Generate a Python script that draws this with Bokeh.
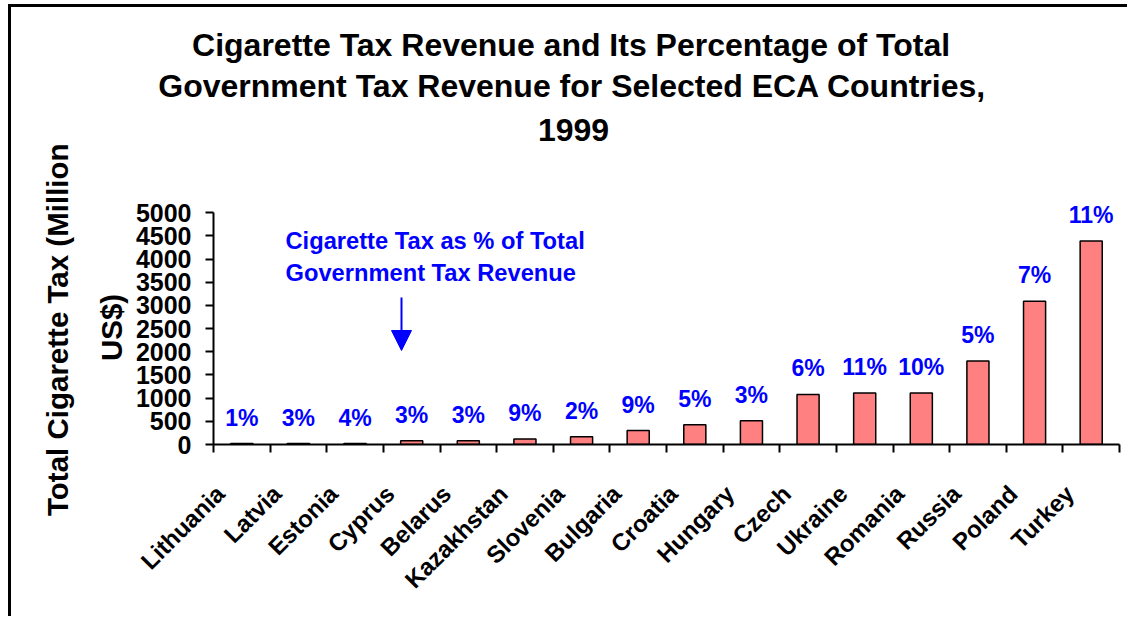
from math import pi
from bokeh.plotting import figure
from bokeh.models import (FactorRange, Range1d, LinearAxis, FixedTicker, ColumnDataSource,
                          LabelSet, Label, Arrow, NormalHead, Title)
from bokeh.core.properties import value
from bokeh.embed import file_html
from bokeh.resources import INLINE

# ---------------- data ----------------
categories = ["Lithuania", "Latvia", "Estonia", "Cyprus", "Belarus", "Kazakhstan",
              "Slovenia", "Bulgaria", "Croatia", "Hungary", "Czech", "Ukraine",
              "Romania", "Russia", "Poland", "Turkey"]
tax_million_usd = [20, 20, 20, 80, 80, 120, 165, 300, 425, 510, 1080, 1110,
                   1110, 1800, 3090, 4390]
pct_of_total_tax = ["1%", "3%", "4%", "3%", "3%", "9%", "2%", "9%", "5%", "3%",
                    "6%", "11%", "10%", "5%", "7%", "11%"]
y_ticks = [0, 500, 1000, 1500, 2000, 2500, 3000, 3500, 4000, 4500, 5000]
title_lines = ["Cigarette Tax Revenue and Its Percentage of Total",
               "Government Tax Revenue for Selected ECA Countries,",
               "1999"]
ylabel_lines = ["Total Cigarette Tax (Million", "US$)"]
note_lines = ["Cigarette Tax as % of Total", "Government Tax Revenue"]

FONT = "Liberation Sans"
BLUE = "#0000FF"
BAR = "#FF8080"

# Arial/Liberation Sans Bold advance widths (1/1000 em), used to centre text lines
_W = {' ': 278, ',': 278, '%': 889, '(': 333, ')': 333, '$': 556}
_W.update({d: 556 for d in "0123456789"})
_W.update(dict(zip("ABCDEFGHIJKLMNOPQRSTUVWXYZ",
                   [722, 722, 722, 722, 667, 611, 778, 722, 278, 556, 722, 611, 833,
                    722, 778, 667, 778, 722, 667, 611, 722, 667, 944, 667, 667, 611])))
_W.update(dict(zip("abcdefghijklmnopqrstuvwxyz",
                   [556, 611, 556, 611, 556, 333, 611, 611, 278, 278, 556, 278, 889,
                    611, 611, 611, 611, 389, 556, 333, 611, 556, 778, 556, 556, 500])))


def text_width(s, size):
    return sum(_W.get(ch, 556) for ch in s) / 1000.0 * size


# page offset caused by the CSS border/margin of the figure element
DX, DY = 11, 7
W, H = 1130 - DX, 619 - DY
FRAME_LEFT, FRAME_RIGHT = 213 - DX, 1119 - DX
MIN_TOP, MIN_BOTTOM = 182, 175
FRAME_BOTTOM_PAGE = 619 - MIN_BOTTOM   # 444

source = ColumnDataSource(dict(cat=categories, tax=tax_million_usd, pct=pct_of_total_tax))

p = figure(width=W, height=H,
           x_range=FactorRange(*categories, range_padding=0, factor_padding=0),
           y_range=Range1d(0, 5500),
           output_backend="svg", toolbar_location=None,
           x_axis_location=None,
           min_border_left=FRAME_LEFT, min_border_right=W - FRAME_RIGHT,
           min_border_top=MIN_TOP, min_border_bottom=MIN_BOTTOM)
p.styles = {"margin-left": "8px", "margin-top": "4px",
            "border-left": "3px solid black", "border-top": "3px solid black"}
p.outline_line_color = None
p.xgrid.visible = False
p.ygrid.visible = False
p.background_fill_color = "white"
p.border_fill_color = "white"

p.vbar(x="cat", top="tax", width=0.39, source=source,
       fill_color=BAR, line_color="black", line_width=1.5)

# y axis
ya = p.yaxis[0]
ya.ticker = FixedTicker(ticks=y_ticks)
ya.bounds = (0, 5000)
ya.axis_line_width = 2
ya.major_tick_line_width = 2
ya.major_tick_out = 8
ya.major_tick_in = 0
ya.minor_tick_line_color = None
ya.major_label_standoff = 14
ya.major_label_text_font = FONT
ya.major_label_text_font_style = "bold"
ya.major_label_text_font_size = "25px"
ya.major_label_text_color = "black"

# y axis title: two rotated lines centred at page y = 328
YLABEL_SIZE = 29.5
YLABEL_CENTER = 327
for txt, st in zip(reversed(ylabel_lines), [10, 28]):
    w = text_width(txt, YLABEL_SIZE)
    p.add_layout(Title(text=txt, align="left", standoff=st,
                       offset=FRAME_BOTTOM_PAGE - (YLABEL_CENTER + w / 2),
                       text_font=FONT, text_font_style="bold",
                       text_font_size=f"{YLABEL_SIZE}px", text_color="black"), "left")

# x axis: labels near category centres, ticks at category boundaries
n = len(categories)
label_pos = [k + 0.5 - 0.38 for k in range(n)]
bounds = [float(k) for k in range(n + 1)]
xa = LinearAxis(ticker=FixedTicker(ticks=label_pos, minor_ticks=bounds),
                major_label_overrides={c: name for c, name in zip(label_pos, categories)})
xa.axis_line_width = 2
xa.major_tick_line_color = None
xa.minor_tick_line_width = 2
xa.minor_tick_line_color = "black"
xa.minor_tick_out = 8
xa.minor_tick_in = 0
xa.major_label_orientation = pi / 4
xa.major_label_standoff = 37
xa.major_label_text_font = FONT
xa.major_label_text_font_style = "bold"
xa.major_label_text_font_size = "24px"
xa.major_label_text_color = "black"
p.add_layout(xa, "below")

# percentage labels above bars
p.add_layout(LabelSet(x="cat", y="tax", text="pct", source=source, y_offset=18,
                      text_align="center", text_baseline="alphabetic",
                      text_font=value(FONT), text_font_style="bold",
                      text_font_size="23px", text_color=BLUE))

# title: innermost (added first) is the spacer, then the lines bottom-up
TITLE_SIZE = 32
TITLE_CENTER = 573 - DX
p.add_layout(Title(text=" ", text_font_size="30px", standoff=4), "above")
for txt, st in zip(reversed(title_lines), [20, 6, 0]):
    w = text_width(txt, TITLE_SIZE)
    p.add_layout(Title(text=txt, align="left", standoff=st,
                       offset=TITLE_CENTER - w / 2 - FRAME_LEFT,
                       text_font=FONT, text_font_style="bold",
                       text_font_size=f"{TITLE_SIZE}px", text_color="black"), "above")

# note
for txt, y in zip(note_lines, [237 - DY, 269 - DY]):
    p.add_layout(Label(x=282 - DX, y=y, x_units="canvas", y_units="canvas", text=txt,
                       text_align="left", text_baseline="alphabetic",
                       text_font=FONT, text_font_style="bold",
                       text_font_size="23.7px", text_color=BLUE))

p.add_layout(Arrow(x_start=401 - DX, y_start=297 - DY, x_end=401 - DX, y_end=350 - DY,
                   start_units="canvas", end_units="canvas",
                   line_color=BLUE, line_width=2,
                   end=NormalHead(size=20, fill_color=BLUE, line_color=BLUE)))

open("out.html", "w").write(file_html(p, INLINE))
